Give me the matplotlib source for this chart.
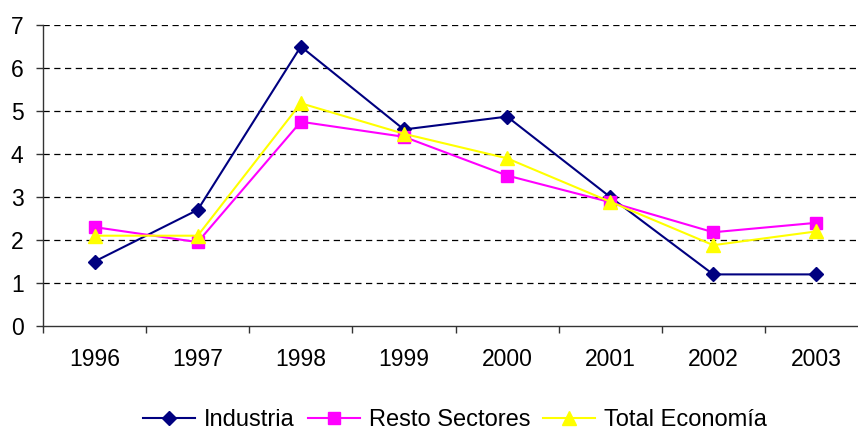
import matplotlib.pyplot as plt
import numpy as np

plt.rcParams['font.family'] = ['Liberation Sans', 'DejaVu Sans']

# Data
years = ['1996', '1997', '1998', '1999', '2000', '2001', '2002', '2003']
industria = [1.5, 2.7, 6.5, 4.57, 4.87, 3.0, 1.2, 1.2]
resto = [2.3, 1.95, 4.75, 4.4, 3.5, 2.88, 2.18, 2.4]
total = [2.1, 2.1, 5.18, 4.47, 3.9, 2.89, 1.88, 2.2]

fig = plt.figure(figsize=(8.58, 4.32), dpi=100)
ax = fig.add_axes([43 / 858, 1 - 326 / 432, 825 / 858, 301 / 432])

x = np.arange(len(years))
ax.plot(x, industria, color='#000080', lw=1.5, marker='D', ms=7.5,
        label='Industria')
ax.plot(x, resto, color='#ff00ff', lw=1.5, marker='s', ms=8,
        label='Resto Sectores')
ax.plot(x, total, color='#ffff00', lw=1.5, marker='^', ms=9.5,
        label='Total Economía')

ax.set_xlim(-0.5, len(years) - 0.5)
ax.set_ylim(0, 7)
ax.set_yticks(range(0, 8))
ax.set_xticks(np.arange(len(years) + 1) - 0.5)
ax.set_xticklabels([])
ax.set_xticks(x, minor=True)
ax.set_xticklabels(years, minor=True)

ax.tick_params(axis='x', which='major', length=5, width=1, color='#333333')
ax.tick_params(axis='x', which='minor', length=0, pad=16, labelsize=16.5)
ax.tick_params(axis='y', length=5, width=1, color='#333333', pad=9, labelsize=16.5)

for v in range(1, 8):
    ax.axhline(v, color='black', lw=0.9, dashes=(5, 3.6), zorder=0)

for s in ['top', 'right']:
    ax.spines[s].set_visible(False)
for s in ['left', 'bottom']:
    ax.spines[s].set_color('#333333')
    ax.spines[s].set_linewidth(1)

fig.legend(loc='center', bbox_to_anchor=(455 / 858, 1 - 420 / 432), ncol=3,
           frameon=False, fontsize=17, handlelength=2.2, handletextpad=0.38,
           columnspacing=0.55, borderaxespad=0)

fig.savefig('out.png', dpi=100)
